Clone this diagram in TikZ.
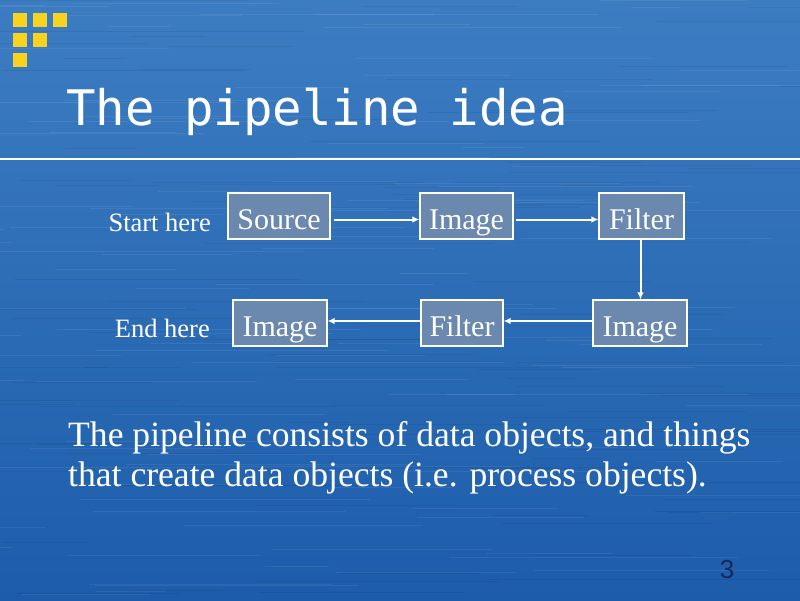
\documentclass[tikz,border=0pt]{standalone}
\usepackage{fontspec}
\setmainfont{Liberation Serif}
\newfontfamily\titlefont{DejaVu Sans Mono}
\newfontfamily\numfont{Liberation Sans}
\usetikzlibrary{arrows.meta}
\definecolor{bgtop}{HTML}{3C7DC2}
\definecolor{bgbot}{HTML}{1C5CAA}
\definecolor{boxfill}{HTML}{6B88AE}
\definecolor{sqyellow}{HTML}{F7D21E}
\definecolor{numcol}{HTML}{16285A}
\tikzset{
  stagebox/.style={draw=white, line width=1.1pt, fill=boxfill, text=white,
    minimum height=46pt, inner sep=0pt, text height=28pt, text depth=2pt,
    font=\fontsize{30}{34}\selectfont},
  flow/.style={draw=white, line width=2pt, -{Latex[length=7pt,width=6.5pt]}},
  sidelabel/.style={text=white, inner sep=0pt, anchor=base east, font=\fontsize{26.5}{30}\selectfont},
  bodytext/.style={text=white, inner sep=0pt, anchor=base west, font=\fontsize{35.6}{41}\selectfont},
  sq/.style={fill=sqyellow},
  streak/.style={line width=0.8pt}
}
\begin{document}
\begin{tikzpicture}[x=1pt,y=-1pt]
\useasboundingbox (0,0) rectangle (800,600);
\shade[top color=bgtop, bottom color=bgbot] (0,0) rectangle (800,600);
% subtle horizontal streaks of the background
\pgfmathsetseed{11}
\foreach \i in {1,...,220}{
  \pgfmathsetmacro{\sy}{rnd*600}
  \pgfmathsetmacro{\sx}{rnd*800-100}
  \pgfmathsetmacro{\sl}{60+rnd*260}
  \pgfmathsetmacro{\sw}{rnd}
  \ifdim\sw pt<0.5pt
    \draw[streak, white, opacity=0.07] (\sx,\sy) -- ++(\sl,0);
  \else
    \draw[streak, black, opacity=0.06] (\sx,\sy) -- ++(\sl,0);
  \fi
}
% yellow squares
\fill[sq] (13,13) rectangle (27,27);
\fill[sq] (33,13) rectangle (47,27);
\fill[sq] (53,13) rectangle (67,27);
\fill[sq] (13,33) rectangle (27,47);
\fill[sq] (33,33) rectangle (47,47);
\fill[sq] (13,53) rectangle (27,67);
% title
\node[anchor=base west, inner sep=0pt, text=white, font=\titlefont\fontsize{49}{55}\selectfont] (title) at (66,125) {The pipeline idea};
\draw[white, line width=1.8pt] (0,159) -- (800,159);
% boxes
\node[stagebox, minimum width=102pt] (src) at (279,216) {Source};
\node[stagebox, minimum width=93pt] (img1) at (466.5,216) {Image};
\node[stagebox, minimum width=85pt] (flt1) at (641.5,216) {Filter};
\node[stagebox, minimum width=94pt] (img2) at (640,323) {Image};
\node[stagebox, minimum width=82pt] (flt2) at (462,323) {Filter};
\node[stagebox, minimum width=94pt] (img3) at (280,323) {Image};
% labels
\node[sidelabel] (start) at (211,231) {Start here};
\node[sidelabel] (end) at (210,337) {End here};
% arrows
\draw[flow, shorten <=3pt] ([yshift=-3.5pt]src.east) -- ([yshift=-3.5pt]img1.west);
\draw[flow, shorten <=2pt] ([yshift=-3.5pt]img1.east) -- ([yshift=-3.5pt]flt1.west);
\draw[flow] ([xshift=-1pt]flt1.south) -- ([xshift=-1pt]flt1.south |- img2.north);
\draw[flow] ([yshift=2pt]img2.west) -- ([yshift=2pt]flt2.east);
\draw[flow] ([yshift=2pt]flt2.west) -- ([yshift=2pt]img3.east);
% body text
\node[bodytext] (body1) at (68,446) {The pipeline consists of data objects, and things};
\node[bodytext] (body2) at (68,486) {that create data objects (i.e. process objects).};
% page number
\node[anchor=base, inner sep=0pt, text=numcol, font=\numfont\fontsize{26}{30}\selectfont] (pnum) at (727,578) {3};
\end{tikzpicture}
\end{document}
